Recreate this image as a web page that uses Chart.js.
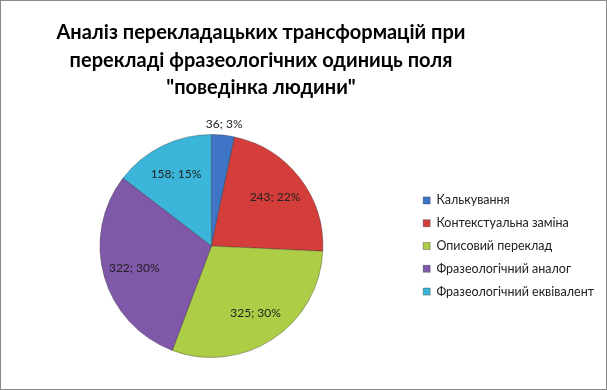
<!DOCTYPE html>
<html>
<head>
<meta charset="utf-8">
<script src="https://cdn.jsdelivr.net/npm/chart.js@4.4.0/dist/chart.umd.min.js"></script>
<style>
  html, body { margin: 0; padding: 0; background: #fff; }
  #wrap { width: 607px; height: 390px; box-sizing: border-box; border: 1px solid #8a8a8a; }
</style>
</head>
<body>
<div id="wrap"><canvas id="pie"></canvas></div>
<script>
var titleLines = ['Аналіз перекладацьких трансформацій при', 'перекладі фразеологічних одиниць поля', '"поведінка людини"'];
var categories = ["Калькування", "Контекстуальна заміна", "Описовий переклад", "Фразеологічний аналог", "Фразеологічний еквівалент"];
var counts = [36, 243, 325, 322, 158];
var percents = [3, 22, 30, 30, 15];
var colors = ['#3e75c7', '#d43e3a', '#aecd46', '#7f58aa', '#3bb5d9'];

// title is centred a bit left of the canvas middle, like the original
var chartTitle = {
    id: 'chartTitle',
    afterDraw: function(chart, args, opts) {
        var ctx = chart.ctx;
        ctx.save();
        ctx.font = 'bold 20px Lato';
        ctx.fillStyle = '#000';
        ctx.textAlign = 'center';
        ctx.textBaseline = 'middle';
        titleLines.forEach(function(line, i) {
            ctx.fillText(line, opts.x, opts.y + i * opts.lineHeight);
        });
        ctx.restore();
    }
};

// labels "value; percent" drawn at each arc, small slices go outside
var sliceLabels = {
    id: 'sliceLabels',
    afterDatasetsDraw: function(chart) {
        var ctx = chart.ctx;
        var meta = chart.getDatasetMeta(0);
        ctx.save();
        ctx.font = '12px Lato';
        ctx.fillStyle = '#222';
        ctx.textAlign = 'center';
        ctx.textBaseline = 'middle';
        meta.data.forEach(function(arc, i) {
            var p = arc.getProps(['x', 'y', 'startAngle', 'endAngle', 'outerRadius'], true);
            var mid = (p.startAngle + p.endAngle) / 2;
            var r = percents[i] < 5 ? p.outerRadius * 1.1 : p.outerRadius * 0.72;
            ctx.fillText(counts[i] + '; ' + percents[i] + '%', p.x + Math.cos(mid) * r, p.y + Math.sin(mid) * r);
        });
        ctx.restore();
    }
};

var ctx = document.getElementById("pie");
var myChart = new Chart(ctx, {
    type: 'pie',
    data: {
        labels: categories,
        datasets: [{
            data: counts,
            backgroundColor: colors,
            borderColor: 'rgba(40, 40, 40, 0.35)',
            borderWidth: 1
        }]
    },
    options: {
        responsive: true,
        maintainAspectRatio: false,
        animation: false,
        layout: {
            padding: { top: 133, left: 9, right: 2, bottom: 31 }
        },
        plugins: {
            chartTitle: { x: 260, y: 32, lineHeight: 27.5 },
            legend: {
                position: 'right',
                fullSize: false,
                labels: {
                    boxWidth: 7,
                    boxHeight: 7,
                    padding: 10.3,
                    color: '#222',
                    font: { family: 'Lato', size: 12.5 }
                }
            },
            tooltip: { enabled: false }
        }
    },
    plugins: [chartTitle, sliceLabels]
});
</script>
</body>
</html>
